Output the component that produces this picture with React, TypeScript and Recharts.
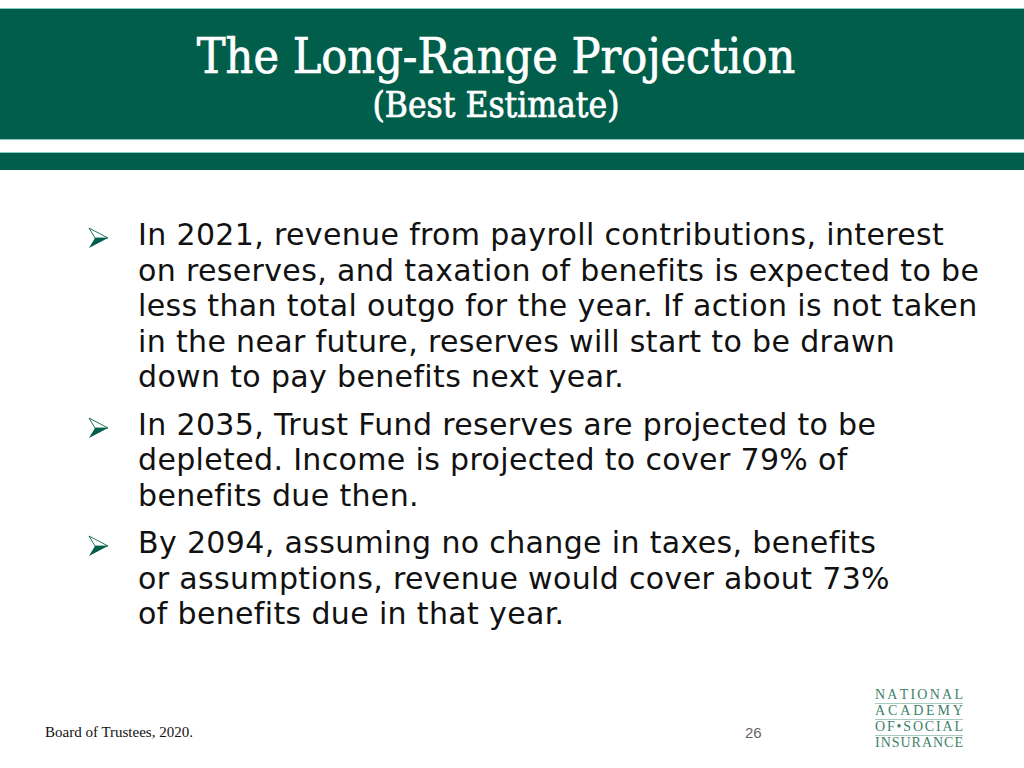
import React from "react";
import { Surface } from "recharts";

const titleLines = ["The Long-Range Projection", "(Best Estimate)"];

const bullets: string[][] = [
  [
    "In 2021, revenue from payroll contributions, interest",
    "on reserves, and taxation of benefits is expected to be",
    "less than total outgo for the year. If action is not taken",
    "in the near future, reserves will start to be drawn",
    "down to pay benefits next year.",
  ],
  [
    "In 2035, Trust Fund reserves are projected to be",
    "depleted. Income is projected to cover 79% of",
    "benefits due then.",
  ],
  [
    "By 2094, assuming no change in taxes, benefits",
    "or assumptions, revenue would cover about 73%",
    "of benefits due in that year.",
  ],
];

const logoLines = ["NATIONAL", "ACADEMY", "OF\u2022SOCIAL", "INSURANCE"];
const source = "Board of Trustees, 2020.";
const pageNumber = "26";

const GREEN = "#005e4b";

function Arrow() {
  return (
    <Surface width={22} height={22} viewBox={{ x: 0, y: 0, width: 22, height: 22 }}>
      <polygon points="1,1 20,11 1,21 7,11" fill={GREEN} />
      <polygon points="1,1 20,11 7,11" fill="#fff" stroke={GREEN} strokeWidth={0.8} />
    </Surface>
  );
}

export default function App() {
  return (
    <div
      style={{
        position: "absolute",
        left: 0,
        top: 0,
        width: 1024,
        height: 768,
        background: "#fff",
        overflow: "hidden",
      }}
    >
      <div
        style={{
          position: "absolute",
          left: 0,
          top: 8,
          width: 1024,
          height: 132,
          background: GREEN,
          borderTop: "1px solid #8cc9bd",
          borderBottom: "1px solid #8cc9bd",
          boxSizing: "border-box",
        }}
      />
      <div
        style={{
          position: "absolute",
          left: 0,
          top: 152,
          width: 1024,
          height: 18,
          background: GREEN,
          borderTop: "1px solid #8cc9bd",
          boxSizing: "border-box",
        }}
      />
      <div
        style={{
          position: "absolute",
          left: 0,
          top: 26,
          width: 992,
          textAlign: "center",
          color: "#fff",
          fontFamily: "'DejaVu Serif Condensed', 'DejaVu Serif', serif",
          fontStretch: "condensed",
          WebkitTextStroke: "0.7px #fff",
        }}
      >
        <div style={{ fontSize: 48, lineHeight: "60px", whiteSpace: "nowrap" }}>{titleLines[0]}</div>
        <div style={{ fontSize: 35, lineHeight: "38px", whiteSpace: "nowrap" }}>{titleLines[1]}</div>
      </div>

      <div
        style={{
          position: "absolute",
          left: 0,
          top: 217,
          fontFamily: "'DejaVu Sans', 'Liberation Sans', Arial, sans-serif",
          fontSize: 30,
          lineHeight: "35.5px",
          letterSpacing: 0.35,
          color: "#111",
        }}
      >
        {bullets.map((lines, i) => (
          <div key={i} style={{ position: "relative", marginTop: i === 0 ? 0 : 12 }}>
            <div style={{ position: "absolute", left: 88, top: 4 }}>
              <Arrow />
            </div>
            {lines.map((l, j) => (
              <div key={j} style={{ marginLeft: 138, whiteSpace: "nowrap" }}>
                {l}
              </div>
            ))}
          </div>
        ))}
      </div>

      <div
        style={{
          position: "absolute",
          left: 45,
          top: 724,
          fontFamily: "'Liberation Serif', 'Times New Roman', serif",
          fontSize: 15,
          color: "#111",
        }}
      >
        {source}
      </div>
      <div
        style={{
          position: "absolute",
          left: 745,
          top: 724,
          fontFamily: "'Liberation Sans', Arial, sans-serif",
          fontSize: 15,
          color: "#666",
        }}
      >
        {pageNumber}
      </div>

      <div
        style={{
          position: "absolute",
          left: 875,
          top: 688,
          width: 88,
          fontFamily: "'Liberation Serif', serif",
          fontSize: 14,
          color: "#3d7f68",
          lineHeight: "14px",
        }}
      >
        {logoLines.map((l, i) => (
          <div
            key={i}
            style={{
              display: "flex",
              justifyContent: "space-between",
              borderBottom: i < logoLines.length - 1 ? "1px solid #a9cabe" : "none",
              paddingBottom: 1,
            }}
          >
            {Array.from(l).map((ch, k) => (
              <span key={k}>{ch}</span>
            ))}
          </div>
        ))}
      </div>
    </div>
  );
}
